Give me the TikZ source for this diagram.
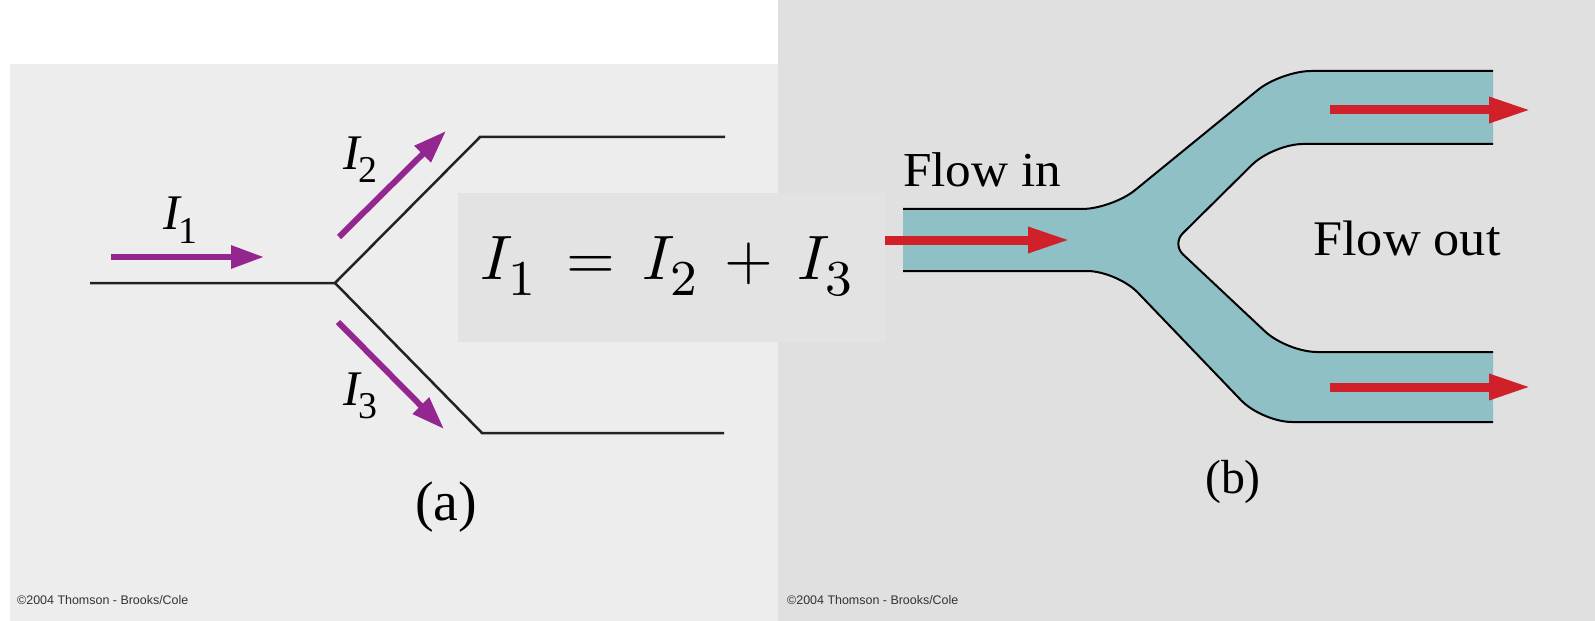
\documentclass[tikz,border=0pt]{standalone}
\usepackage[no-math]{fontspec}
\newfontfamily\serif{Liberation Serif}
\newfontfamily\arial{Liberation Sans}
\usetikzlibrary{arrows.meta,calc}
\DeclareMathSizes{10}{10}{8}{6}
\definecolor{bgA}{HTML}{EDEDED}
\definecolor{bgB}{HTML}{E0E0E0}
\definecolor{eqbg}{HTML}{E3E3E3}
\definecolor{purp}{HTML}{93278F}
\definecolor{flowred}{HTML}{D0202A}
\definecolor{teal}{HTML}{8FC0C6}
\definecolor{wire}{HTML}{222222}
\newcommand\sbx[1]{_{\raisebox{-1bp}{$\scriptstyle #1$}}}
\newcommand\ilab[1]{{\serif\fontsize{50}{50}\selectfont\itshape I\kern-1bp\raisebox{-13bp}{\upshape\fontsize{38}{38}\selectfont #1}}}
\tikzset{
  wireline/.style={draw=wire, line width=2.5bp},
  purparrow/.style={draw=purp, line width=6bp, -{Triangle[length=33bp,width=22bp]}},
  redarrow/.style={draw=flowred, line width=9bp, -{Triangle[length=42bp,width=24bp]}},
  pipeedge/.style={draw=black, line width=2bp},
  ilabel/.style={anchor=base west, inner sep=0pt},
  caplabel/.style={anchor=base, inner sep=0pt},
  copy/.style={anchor=base west, inner sep=0pt, font=\arial\fontsize{12.5}{13}\selectfont, text=black!80},
  eqbox/.style={fill=eqbg, minimum width=427bp, minimum height=149bp, inner sep=0pt},
  eqtext/.style={inner sep=0pt, scale=6.3, font=\fontsize{10}{12}\selectfont}
}
\begin{document}
\begin{tikzpicture}[x=1bp,y=-1bp]
\useasboundingbox (0,0) rectangle (1595,621);
% backgrounds
\fill[white] (0,0) rectangle (1595,621);
\fill[bgA] (10,64) rectangle (778,621);
\fill[bgB] (778,0) rectangle (1595,621);

% ---------- panel (a) ----------
\coordinate (inL) at (90,283);
\coordinate (J) at (335,283);
\coordinate (U1) at (480,137);
\coordinate (U2) at (725,137);
\coordinate (L1) at (482,433);
\coordinate (L2) at (724,433);
\draw[wireline] (inL) -- (J) -- (U1) -- (U2);
\draw[wireline] (J) -- (L1) -- (L2);

\coordinate (a1s) at (111,257);
\coordinate (a1e) at (264,257);
\coordinate (a2s) at (339,237);
\coordinate (a2e) at (446,131);
\coordinate (a3s) at (338,322);
\coordinate (a3e) at (444,429);
\draw[purparrow] (a1s) -- (a1e);
\draw[purparrow] (a2s) -- (a2e);
\draw[purparrow] (a3s) -- (a3e);

\node[ilabel] (i1) at (163,230) {\ilab{1}};
\node[ilabel] (i2) at (343,170) {\ilab{2}};
\node[ilabel] (i3) at (343,405) {\ilab{3}};
\node[caplabel] (capa) at (446,520) {\serif\fontsize{56}{56}\selectfont (a)};
\node[copy] (cpa) at (17,604) {©2004 Thomson - Brooks/Cole};

% ---------- panel (b) ----------
\coordinate (A) at (903,209);
\coordinate (B1) at (1082,209);  \coordinate (B) at (1112,209);  \coordinate (B2) at (1135.2,190.0);
\coordinate (C1) at (1257.8,90.0); \coordinate (C) at (1281,71); \coordinate (C2) at (1311,71);
\coordinate (D) at (1493,71);
\coordinate (D2) at (1493,144);
\coordinate (E1) at (1303,144);  \coordinate (E) at (1273,144);  \coordinate (E2) at (1251.7,165.1);
\coordinate (F1) at (1182.7,233.4); \coordinate (F) at (1172,244); \coordinate (F2) at (1182.9,254.3);
\coordinate (G1) at (1265.1,331.5); \coordinate (G) at (1287,352); \coordinate (G3) at (1317,352);
\coordinate (G2) at (1493,352);
\coordinate (I2) at (1493,422);
\coordinate (Ic1) at (1292,422); \coordinate (Ic) at (1262,422); \coordinate (Ic2) at (1241.2,400.4);
\coordinate (H1) at (1137.8,292.6); \coordinate (H) at (1117,271); \coordinate (H2) at (1087,271);
\coordinate (A2) at (903,271);

\fill[teal] (A) -- (B1) .. controls ($(B1)!0.55!(B)$) and ($(B2)!0.55!(B)$) .. (B2)
  -- (C1) .. controls ($(C1)!0.55!(C)$) and ($(C2)!0.55!(C)$) .. (C2)
  -- (D) -- (D2)
  -- (E1) .. controls ($(E1)!0.55!(E)$) and ($(E2)!0.55!(E)$) .. (E2)
  -- (F1) .. controls ($(F1)!0.55!(F)$) and ($(F2)!0.55!(F)$) .. (F2)
  -- (G1) .. controls ($(G1)!0.55!(G)$) and ($(G3)!0.55!(G)$) .. (G3)
  -- (G2) -- (I2)
  -- (Ic1) .. controls ($(Ic1)!0.55!(Ic)$) and ($(Ic2)!0.55!(Ic)$) .. (Ic2)
  -- (H1) .. controls ($(H1)!0.55!(H)$) and ($(H2)!0.55!(H)$) .. (H2)
  -- (A2) -- cycle;
\draw[pipeedge] (A) -- (B1) .. controls ($(B1)!0.55!(B)$) and ($(B2)!0.55!(B)$) .. (B2)
  -- (C1) .. controls ($(C1)!0.55!(C)$) and ($(C2)!0.55!(C)$) .. (C2) -- (D);
\draw[pipeedge] (D2)
  -- (E1) .. controls ($(E1)!0.55!(E)$) and ($(E2)!0.55!(E)$) .. (E2)
  -- (F1) .. controls ($(F1)!0.55!(F)$) and ($(F2)!0.55!(F)$) .. (F2)
  -- (G1) .. controls ($(G1)!0.55!(G)$) and ($(G3)!0.55!(G)$) .. (G3) -- (G2);
\draw[pipeedge] (I2)
  -- (Ic1) .. controls ($(Ic1)!0.55!(Ic)$) and ($(Ic2)!0.55!(Ic)$) .. (Ic2)
  -- (H1) .. controls ($(H1)!0.55!(H)$) and ($(H2)!0.55!(H)$) .. (H2) -- (A2);

\coordinate (r1s) at (878,240);
\coordinate (r1e) at (1070,240);
\coordinate (r2s) at (1330,110);
\coordinate (r2e) at (1531,110);
\coordinate (r3s) at (1330,387);
\coordinate (r3e) at (1531,387);
\draw[redarrow] (r1s) -- (r1e);
\draw[redarrow] (r2s) -- (r2e);
\draw[redarrow] (r3s) -- (r3e);

\node[ilabel, xscale=1.05] (fin) at (903,187) {\serif\fontsize{49}{49}\selectfont Flow in};
\node[ilabel, xscale=1.05] (fout) at (1313,255) {\serif\fontsize{50}{50}\selectfont Flow out};
\node[caplabel] (capb) at (1233,493) {\serif\fontsize{48}{48}\selectfont (b)};
\node[copy] (cpb) at (787,604) {©2004 Thomson - Brooks/Cole};

% ---------- equation ----------
\node[eqbox] (eqb) at (671.5,267.5) {};
\node[eqtext] (eq) at (668,266) {$I\sbx{1}\mkern3mu=\mkern3mu I\sbx{2}\mkern3mu+\mkern3mu I\sbx{3}$};
\end{tikzpicture}
\end{document}
